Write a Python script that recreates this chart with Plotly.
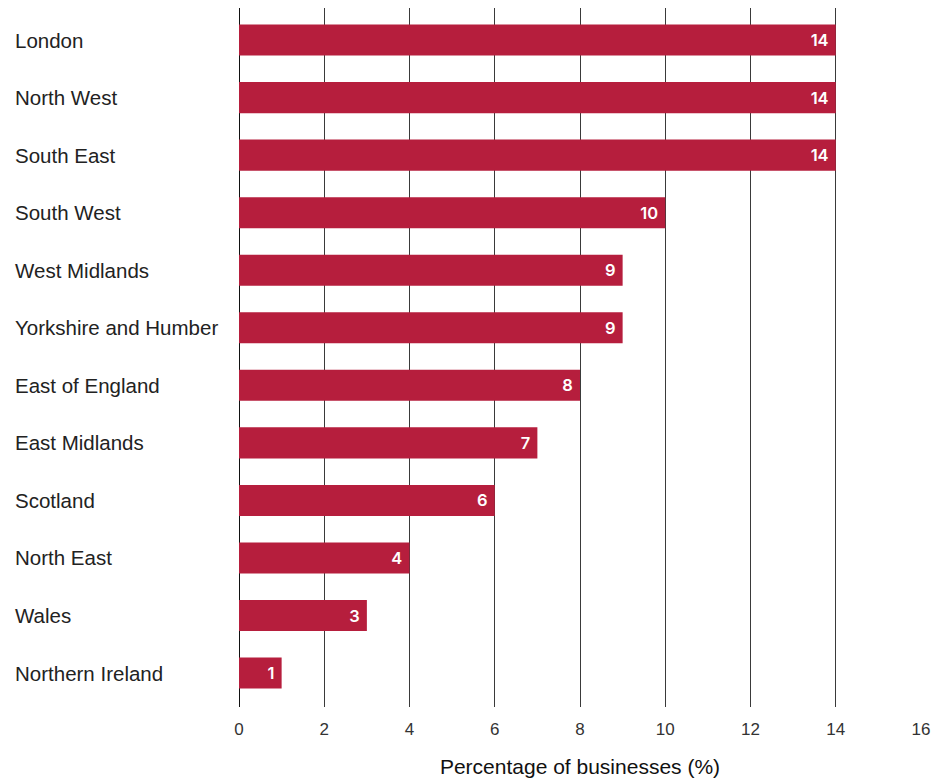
import plotly.graph_objects as go

regions = [
    "London", "North West", "South East", "South West", "West Midlands",
    "Yorkshire and Humber", "East of England", "East Midlands", "Scotland",
    "North East", "Wales", "Northern Ireland",
]
shares = [14, 14, 14, 10, 9, 9, 8, 7, 6, 4, 3, 1]
x_ticks = [0, 2, 4, 6, 8, 10, 12, 14, 16]

BAR_COLOR = "#B61E3D"
FONT = "Liberation Sans, Arial, sans-serif"

fig = go.Figure(
    go.Bar(
        x=shares,
        y=regions,
        orientation="h",
        marker=dict(color=BAR_COLOR, line=dict(width=0)),
        text=[f"{v} " for v in shares],
        textposition="inside",
        insidetextanchor="end",
        textfont=dict(color="white", size=16.5, family="Inter, Liberation Sans, sans-serif", weight=600),
        width=0.54,
        hoverinfo="skip",
    )
)

# Region names, left-aligned at the page edge
for r in regions:
    fig.add_annotation(
        x=0, xref="paper", xanchor="left", xshift=-226,
        y=r, yref="y",
        text=r, showarrow=False,
        font=dict(size=20.5, color="#222222", family=FONT),
    )

fig.update_layout(
    width=942, height=782,
    margin=dict(l=239, r=21, t=8, b=75),
    plot_bgcolor="white", paper_bgcolor="white",
    showlegend=False,
    font=dict(family=FONT),
)
fig.update_xaxes(
    range=[0, 16],
    tickvals=x_ticks,
    showgrid=True, gridcolor="#3a3a3a", gridwidth=1,
    zeroline=True, zerolinecolor="#111111", zerolinewidth=1.2,
    showline=False, ticks="",
    tickfont=dict(size=17, color="#333333"),
    ticklabelstandoff=10,
    title=dict(text="Percentage of businesses (%)",
               font=dict(size=21, color="#111111"), standoff=21),
)
fig.update_yaxes(
    type="category",
    range=[11.59, -0.557],
    showticklabels=False, showgrid=False, zeroline=False, ticks="",
)

fig.write_html("out.html")
